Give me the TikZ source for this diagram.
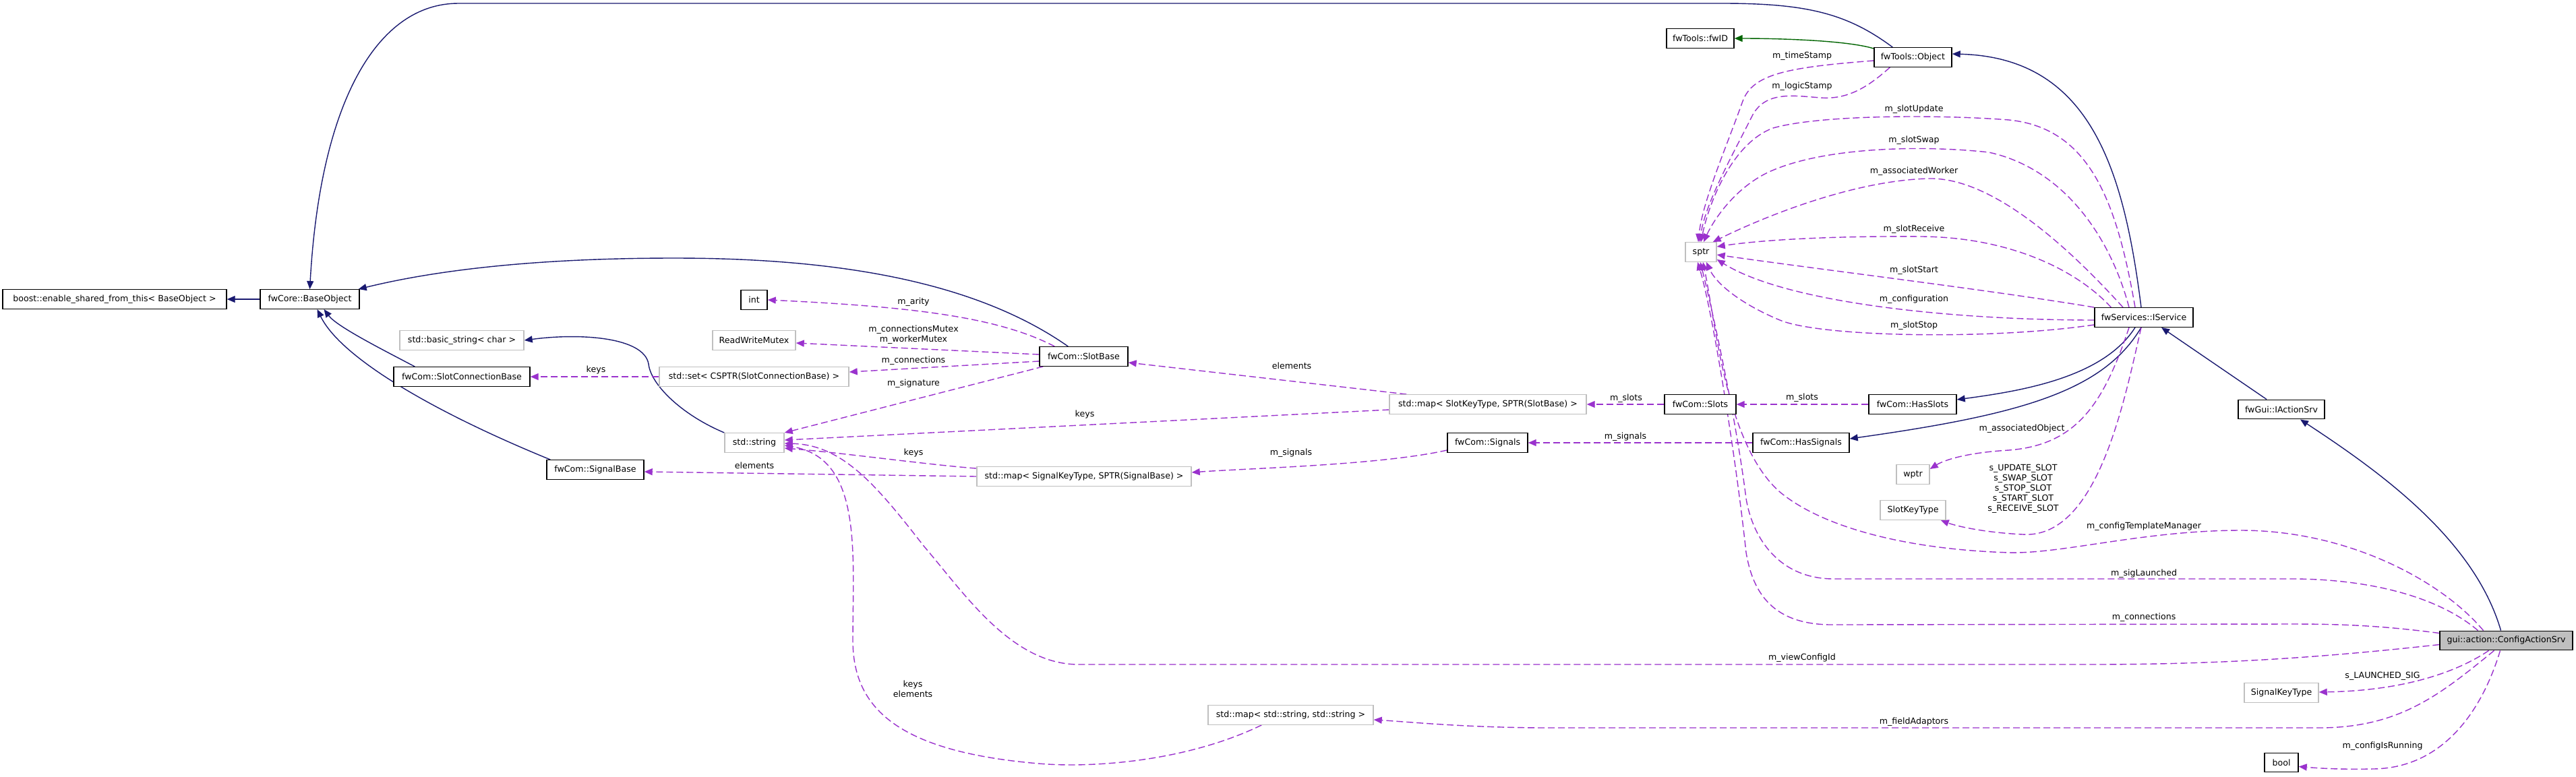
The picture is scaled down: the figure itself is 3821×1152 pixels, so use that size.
\documentclass[tikz,border=0pt]{standalone}
\usepackage{fontspec}
\setmainfont{DejaVu Sans}
\usetikzlibrary{arrows.meta,calc,backgrounds}
\definecolor{inh}{HTML}{191970}
\definecolor{usg}{HTML}{9A32CD}
\definecolor{grn}{HTML}{006400}
\definecolor{gbord}{HTML}{BFBFBF}
\newcommand\dgfont{\fontsize{12.6}{16}\selectfont}
\begin{document}
\begin{tikzpicture}[x=1pt,y=-1pt,
  cls/.style={draw=black, line width=1.4pt, fill=white, minimum height=28.5pt, inner xsep=5pt, inner ysep=0pt, font=\dgfont},
  ext/.style={cls, draw=gbord},
  inhe/.style={draw=inh, line width=1.4pt, -{Triangle[length=12pt,width=10pt]}},
  grne/.style={draw=grn, line width=1.4pt, -{Triangle[length=12pt,width=10pt]}},
  use/.style={draw=usg, line width=1.4pt, dash pattern=on 10pt off 5pt, -{Triangle[length=12pt,width=10pt]}},
  lbl/.style={font=\dgfont, inner sep=1pt, align=center}]
\useasboundingbox (0,0) rectangle (3821,1152);

% nodes
\node[cls, minimum width=332pt] (boost) at (170,444) {boost::enable\_shared\_from\_this< BaseObject >};
\node[cls, minimum width=147pt] (base) at (459.5,444) {fwCore::BaseObject};
\node[cls, minimum width=39pt] (int) at (1118.5,445) {int};
\node[ext, minimum width=184pt] (bstr) at (685,505) {std::basic\_string< char >};
\node[ext, minimum width=123pt] (rwm) at (1118.5,505) {ReadWriteMutex};
\node[cls, minimum width=202pt] (scb) at (685,559) {fwCom::SlotConnectionBase};
\node[ext, minimum width=281pt] (sset) at (1118.5,559) {std::set< CSPTR(SlotConnectionBase) >};
\node[ext, minimum width=88pt] (sstr) at (1119,657) {std::string};
\node[cls, minimum width=144pt] (sigb) at (883,697) {fwCom::SignalBase};
\node[cls, minimum width=131pt] (slotb) at (1607.5,529) {fwCom::SlotBase};
\node[ext, minimum width=292pt] (mapslot) at (2207,600) {std::map< SlotKeyType, SPTR(SlotBase) >};
\node[cls, minimum width=119pt] (signals) at (2206.5,657) {fwCom::Signals};
\node[ext, minimum width=318pt] (mapsig) at (1608,707) {std::map< SignalKeyType, SPTR(SignalBase) >};
\node[ext, minimum width=245pt] (mapstr) at (1914.5,1061) {std::map< std::string, std::string >};
\node[cls, minimum width=100pt] (fwid) at (2522,57) {fwTools::fwID};
\node[cls, minimum width=115pt] (obj) at (2837.5,85) {fwTools::Object};
\node[ext, minimum width=46pt] (sptr) at (2523,374) {sptr};
\node[cls, minimum width=146pt] (isrv) at (3180,471) {fwServices::IService};
\node[cls, minimum width=106pt] (slots) at (2522,600) {fwCom::Slots};
\node[cls, minimum width=130pt] (hasslots) at (2837,600) {fwCom::HasSlots};
\node[cls, minimum width=143pt] (hassig) at (2671.5,657) {fwCom::HasSignals};
\node[cls, minimum width=128pt] (iact) at (3384,607.5) {fwGui::IActionSrv};
\node[ext, minimum width=49pt] (wptr) at (2837.5,704) {wptr};
\node[ext, minimum width=97pt] (skt) at (2837.5,757) {SlotKeyType};
\node[cls, fill=gbord, minimum width=197pt] (cas) at (3717.5,950.5) {gui::action::ConfigActionSrv};
\node[ext, minimum width=110pt] (sigkt) at (3384,1028) {SignalKeyType};
\node[cls, minimum width=50pt] (bool) at (3384,1131.5) {bool};

% labels
\node[lbl] (l1) at (884,549) {keys};
\node[lbl] (l2) at (1119,691) {elements};
\node[lbl] (l3) at (1355,448) {m\_arity};
\node[lbl] (l4) at (1355,497) {m\_connectionsMutex\\[-1pt]m\_workerMutex};
\node[lbl] (l5) at (1355,535) {m\_connections};
\node[lbl] (l6) at (1355,569) {m\_signature};
\node[lbl] (l7) at (1916,543) {elements};
\node[lbl] (l8) at (1609,615) {keys};
\node[lbl] (l9) at (1355,672) {keys};
\node[lbl] (l10) at (1915,672) {m\_signals};
\node[lbl] (l11) at (2412,591) {m\_slots};
\node[lbl] (l12) at (2411,648) {m\_signals};
\node[lbl] (l13) at (1354,1022) {keys\\[-1pt]elements};
\node[lbl] (l14) at (2673,83) {m\_timeStamp};
\node[lbl] (l15) at (2673,128) {m\_logicStamp};
\node[lbl] (l16) at (2839,162) {m\_slotUpdate};
\node[lbl] (l17) at (2839,208) {m\_slotSwap};
\node[lbl] (l18) at (2839,254) {m\_associatedWorker};
\node[lbl] (l19) at (2839,340) {m\_slotReceive};
\node[lbl] (l20) at (2839,401) {m\_slotStart};
\node[lbl] (l21) at (2839,444) {m\_configuration};
\node[lbl] (l22) at (2839,483) {m\_slotStop};
\node[lbl] (l23) at (2673,590) {m\_slots};
\node[lbl] (l24) at (2999,636) {m\_associatedObject};
\node[lbl] (l25) at (3001,725) {s\_UPDATE\_SLOT\\[-1pt]s\_SWAP\_SLOT\\[-1pt]s\_STOP\_SLOT\\[-1pt]s\_START\_SLOT\\[-1pt]s\_RECEIVE\_SLOT};
\node[lbl] (l26) at (3180,781) {m\_configTemplateManager};
\node[lbl] (l27) at (3180,851) {m\_sigLaunched};
\node[lbl] (l28) at (3180,916) {m\_connections};
\node[lbl] (l29) at (2673,976) {m\_viewConfigId};
\node[lbl] (l30) at (3534,1003) {s\_LAUNCHED\_SIG};
\node[lbl] (l31) at (2839,1071) {m\_fieldAdaptors};
\node[lbl] (l32) at (3534,1107) {m\_configIsRunning};

\begin{scope}[on background layer]
\fill[white] (0,0) rectangle (3821,1152);
% inheritance
\draw[inhe] (base.west) -- (boost.east);
\draw[inhe] ($(obj.north west)+(28,0)$) .. controls (2740,20) and (2680,5) .. (2555,5) -- (680,5) .. controls (560,5) and (475,150) .. (base.north);
\draw[inhe] ($(slotb.north west)+(43,0)$) .. controls (1450,420) and (1250,383) .. (1000,383) .. controls (800,383) and (650,400) .. ($(base.north east)+(-2,0)$);
\draw[inhe] ($(scb.north west)+(32,0)$) .. controls (570,520) and (500,485) .. ($(base.south)+(21,0)$);
\draw[inhe] ($(sigb.north west)+(6,0)$) .. controls (640,610) and (505,530) .. ($(base.south)+(11,0)$);
\draw[inhe] (sstr.north west) .. controls (1010,615) and (965,570) .. (962,540) .. controls (955,500) and (860,494) .. (bstr.east);
\draw[inhe] ($(isrv.north)+(-4,0)$) .. controls (3150,250) and (3100,85) .. ($(obj.east)+(0,-5)$);
\draw[inhe] ($(isrv.south)+(-13,0)$) .. controls (3120,560) and (3000,580) .. ($(hasslots.east)+(0,-7)$);
\draw[inhe] ($(isrv.south)+(-4,0)$) .. controls (3120,580) and (3000,615) .. ($(hassig.east)+(0,-6)$);
\draw[inhe] ($(iact.north)+(-22,0)$) -- ($(isrv.south)+(26,0)$);
\draw[inhe] ($(cas.north)+(-8,0)$) .. controls (3670,800) and (3530,700) .. ($(iact.south)+(28,0)$);
\draw[grne] ($(obj.north west)+(0,2)$) .. controls (2740,60) and (2640,57) .. (fwid.east);

% usage
\draw[use] ($(obj.west)+(0,5)$) .. controls (2650,100) and (2600,110) .. (2585,150) .. controls (2560,220) and (2525,300) .. ($(sptr.north)+(-4,0)$);
\draw[use] ($(obj.south west)+(24,0)$) .. controls (2770,130) and (2740,148) .. (2700,145) .. controls (2660,142) and (2620,135) .. (2600,170) .. controls (2570,230) and (2530,300) .. ($(sptr.north)+(-2,0)$);
\draw[use] ($(isrv.north)+(-13,0)$) .. controls (3140,300) and (3100,190) .. (2980,178) .. controls (2880,170) and (2700,170) .. (2630,190) .. controls (2570,212) and (2535,300) .. ($(sptr.north)+(0,0)$);
\draw[use] ($(isrv.north)+(-22,0)$) .. controls (3130,350) and (3060,250) .. (2950,226) .. controls (2850,215) and (2700,218) .. (2620,257) .. controls (2570,282) and (2540,330) .. ($(sptr.north)+(4,0)$);
\draw[use] ($(isrv.north)+(-31,0)$) .. controls (3080,380) and (2960,262) .. (2860,265) .. controls (2750,268) and (2620,320) .. ($(sptr.north east)+(-6,0)$);
\draw[use] ($(isrv.north west)+(25,0)$) .. controls (3080,400) and (2980,352) .. (2850,351) .. controls (2730,350) and (2620,355) .. ($(sptr.east)+(0,-8)$);
\draw[use] (isrv.north west) .. controls (2950,430) and (2700,400) .. ($(sptr.east)+(0,4)$);
\draw[use] ($(isrv.west)+(0,4)$) .. controls (2900,475) and (2650,450) .. ($(sptr.south east)+(0,-4)$);
\draw[use] ($(isrv.south west)+(0,-4)$) .. controls (2950,505) and (2700,500) .. (2640,475) .. controls (2580,450) and (2545,420) .. ($(sptr.south)+(8,0)$);
\draw[use] ($(isrv.south)+(-22,0)$) .. controls (3120,600) and (3080,660) .. (2980,668) .. controls (2910,672) and (2880,685) .. ($(wptr.east)+(0,-8)$);
\draw[use] ($(isrv.south)+(-4,0)$) .. controls (3150,600) and (3110,800) .. (3000,793) .. controls (2940,790) and (2900,780) .. ($(skt.south east)+(-8,0)$);
\draw[use] ($(cas.north)+(-34,0)$) .. controls (3620,860) and (3480,787) .. (3324,787) .. controls (3180,787) and (3060,822) .. (2980,820) .. controls (2820,815) and (2700,780) .. (2640,730) .. controls (2560,660) and (2545,480) .. ($(sptr.south)+(3,0)$);
\draw[use] ($(cas.north)+(-42,0)$) .. controls (3610,880) and (3500,859) .. (3400,859) -- (2720,859) .. controls (2640,859) and (2600,800) .. (2590,740) .. controls (2575,620) and (2540,460) .. ($(sptr.south)+(-1,0)$);
\draw[use] ($(cas.north west)+(0,4)$) .. controls (3530,928) and (3470,926) .. (3400,926) -- (2720,927) .. controls (2630,928) and (2600,880) .. (2590,820) .. controls (2575,680) and (2540,460) .. ($(sptr.south)+(-5,0)$);
\draw[use] ($(cas.west)+(0,6)$) .. controls (3450,975) and (3300,986) .. (3100,986) -- (1600,986) .. controls (1500,986) and (1430,880) .. (1370,810) .. controls (1300,720) and (1250,660) .. ($(sstr.east)+(0,1)$);
\draw[use] ($(mapstr.south west)+(80,0)$) .. controls (1760,1130) and (1620,1140) .. (1540,1133) .. controls (1330,1115) and (1265,1050) .. (1265,950) .. controls (1265,820) and (1280,680) .. ($(sstr.east)+(0,4)$);
\draw[use] ($(cas.south)+(-26,0)$) .. controls (3640,1000) and (3560,1025) .. ($(sigkt.east)+(0,-1)$);
\draw[use] ($(cas.south)+(-18,0)$) .. controls (3620,1030) and (3560,1080) .. (3440,1080) -- (2300,1080) .. controls (2180,1080) and (2100,1072) .. ($(mapstr.east)+(0,7)$);
\draw[use] ($(cas.south)+(-9,0)$) .. controls (3680,1060) and (3620,1140) .. (3520,1141) .. controls (3470,1142) and (3440,1140) .. ($(bool.east)+(0,6)$);
\draw[use] ($(slotb.north west)+(23,0)$) .. controls (1480,470) and (1350,455) .. (int.east);
\draw[use] ($(slotb.west)+(0,-3)$) -- ($(rwm.east)+(0,4)$);
\draw[use] ($(slotb.west)+(0,7)$) -- ($(sset.east)+(0,-7)$);
\draw[use] ($(slotb.south west)+(6,0)$) -- (sstr.north east);
\draw[use] (sset.west) -- (scb.east);
\draw[use] ($(mapslot.north west)+(26,0)$) -- ($(slotb.east)+(0,9)$);
\draw[use] ($(mapslot.west)+(0,8)$) -- ($(sstr.east)+(0,-4)$);
\draw[use] (slots.west) -- (mapslot.east);
\draw[use] (hasslots.west) -- (slots.east);
\draw[use] (hassig.west) -- (signals.east);
\draw[use] ($(signals.west)+(0,11)$) .. controls (2050,690) and (1850,695) .. ($(mapsig.east)+(0,-6)$);
\draw[use] (mapsig.west) -- ($(sigb.east)+(0,3)$);
\draw[use] ($(mapsig.north west)+(0,3)$) .. controls (1380,690) and (1250,672) .. ($(sstr.east)+(0,8)$);
\end{scope}
\end{tikzpicture}
\end{document}
